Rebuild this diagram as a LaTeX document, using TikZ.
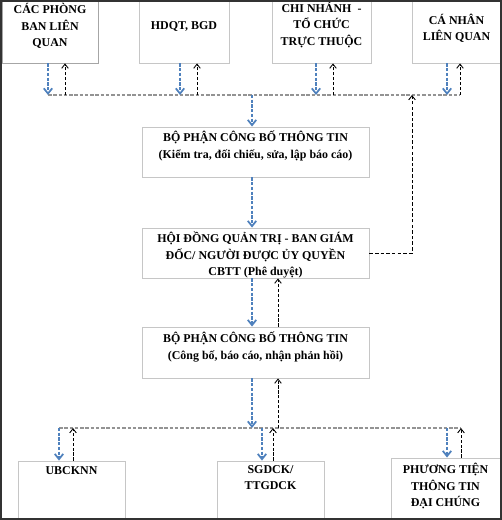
\documentclass[tikz,border=0pt]{standalone}
\usepackage{fontspec}
\setmainfont{Liberation Serif}
\usetikzlibrary{arrows.meta}

\definecolor{arrowblue}{RGB}{79,129,189}

\begin{document}
\begin{tikzpicture}[x=0.02cm, y=-0.02cm,
  box/.style={draw=gray!45, line width=0.5pt, fill=white, inner sep=0pt, minimum height=1.24cm},
  txt/.style={font=\bfseries\fontsize{6.8}{9.3}\selectfont, align=center, inner sep=0pt},
  down/.style={arrowblue, line width=1pt, dash pattern=on 1.8pt off 0.9pt, -{Straight Barb[length=3pt,width=4.8pt]}},
  up/.style={black, line width=0.5pt, dash pattern=on 1.8pt off 1pt, -{Straight Barb[length=2.4pt,width=3.8pt]}},
  bus/.style={gray!85, line width=0.6pt, dash pattern=on 2pt off 1pt}]

  \useasboundingbox (0,0) rectangle (502,520);

  % Top row of boxes
  \node[box, draw=gray!70, minimum width=1.92cm] (phong) at (50,32) {};
  \node[box, minimum width=1.8cm] (hdqt) at (184,32) {};
  \node[box, minimum width=1.98cm] (chinhanh) at (321.5,32) {};
  \node[box, minimum width=1.78cm] (canhan) at (456.5,32) {};

  \node[txt] (phongt) at (50,26) {CÁC PHÒNG\\BAN LIÊN\\QUAN};
  \node[txt] (hdqtt) at (184,27) {HDQT, BGD};
  \node[txt] (chinhanht) at (321.5,25) {CHI NHÁNH\ \ -\\TỔ CHỨC\\TRỰC THUỘC};
  \node[txt] (canhant) at (456.5,28) {CÁ NHÂN\\LIÊN QUAN};

  % Middle column
  \node[box, minimum width=4.54cm, minimum height=1cm] (bp1) at (255.5,152) {};
  \node[box, minimum width=4.54cm, minimum height=1cm] (hdqtbgd) at (255.5,253) {};
  \node[box, minimum width=4.54cm, minimum height=1.02cm] (bp2) at (255.5,352.5) {};

  \node[txt, anchor=north] (bp1t) at (255.5,131) {BỘ PHẬN CÔNG BỐ THÔNG TIN\\(Kiểm tra, đối chiếu, sửa, lập báo cáo)};
  \node[txt, anchor=north] (hdqtbgdt) at (255.5,232) {HỘI ĐỒNG QUẢN TRỊ - BAN GIÁM\\ĐỐC/ NGƯỜI ĐƯỢC ỦY QUYỀN\\CBTT (Phê duyệt)};
  \node[txt, anchor=north] (bp2t) at (255.5,332) {BỘ PHẬN CÔNG BỐ THÔNG TIN\\(Công bố, báo cáo, nhận phản hồi)};

  % Bottom row of boxes
  \node[box, minimum width=2.14cm, minimum height=1.28cm] (ubck) at (71.5,493) {};
  \node[box, minimum width=2.14cm, minimum height=1.28cm] (sgdck) at (270.5,493) {};
  \node[box, minimum width=2.18cm, minimum height=1.34cm] (pttt) at (445.5,491.5) {};

  \node[txt, anchor=north] (ubckt) at (71.5,466) {UBCKNN};
  \node[txt, anchor=north] (sgdckt) at (270.5,465) {SGDCK/\\TTGDCK};
  \node[txt, anchor=north] (ptttt) at (445.5,463) {PHƯƠNG TIỆN\\THÔNG TIN\\ĐẠI CHÚNG};

  % Points on the upper bus
  \coordinate (t1) at (48,95);  \coordinate (t1u) at (65,95);
  \coordinate (t2) at (180,95); \coordinate (t2u) at (197,95);
  \coordinate (t3) at (316,95); \coordinate (t3u) at (333,95);
  \coordinate (t4) at (447,95); \coordinate (t4u) at (460,95);
  \coordinate (tm) at (252,95); \coordinate (tr) at (412,95);

  % Points on the lower bus
  \coordinate (b1) at (59,428);  \coordinate (b1u) at (73,428);
  \coordinate (b2) at (262,428); \coordinate (b2u) at (273,428);
  \coordinate (b3) at (447,428); \coordinate (b3u) at (461,428);
  \coordinate (bm) at (252,428); \coordinate (bmu) at (278,428);

  % Upper bus and its arrows
  \draw[bus] (t1) -- (t4u);
  \draw[down] (phong.south -| t1) -- (t1);
  \draw[down] (hdqt.south -| t2) -- (t2);
  \draw[down] (chinhanh.south -| t3) -- (t3);
  \draw[down] (canhan.south -| t4) -- (t4);
  \draw[up] (t1u) -- (phong.south -| t1u);
  \draw[up] (t2u) -- (hdqt.south -| t2u);
  \draw[up] (t3u) -- (chinhanh.south -| t3u);
  \draw[up] (t4u) -- (canhan.south -| t4u);
  \draw[down] (tm) -- (bp1.north -| tm);

  % Middle column arrows
  \draw[down] (bp1.south -| tm) -- (hdqtbgd.north -| tm);
  \draw[up, dash pattern=on 2pt off 1.2pt] (hdqtbgd.east) -| (tr);
  \draw[down] (hdqtbgd.south -| tm) -- (bp2.north -| tm);
  \draw[up] (bp2.north -| bmu) -- (hdqtbgd.south -| bmu);

  % Lower bus and its arrows
  \draw[bus] (b1) -- (b3u);
  \draw[down] (bp2.south -| bm) -- (bm);
  \draw[up] (bmu) -- (bp2.south -| bmu);
  \draw[down] (b1) -- (ubck.north -| b1);
  \draw[down] (b2) -- (sgdck.north -| b2);
  \draw[down] (b3) -- (pttt.north -| b3);
  \draw[up] (ubck.north -| b1u) -- (b1u);
  \draw[up] (sgdck.north -| b2u) -- (b2u);
  \draw[up] (pttt.north -| b3u) -- (b3u);

  % Frame round the picture
  \draw[black!80, line width=1pt] (0.9,0.9) rectangle (501.1,519.1);

\end{tikzpicture}
\end{document}
